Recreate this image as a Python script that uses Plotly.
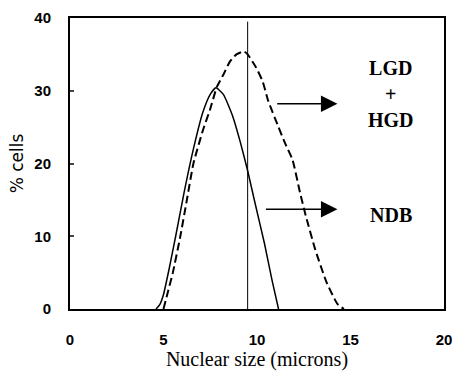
import plotly.graph_objects as go

# Solid curve (NDB)
solid_x = [4.6, 4.8, 5.0, 5.3, 5.65, 6.1, 6.6, 7.1, 7.5, 7.8, 8.2, 8.7, 9.1, 9.5, 9.9, 10.4, 10.8, 11.15]
solid_y = [0, 0.6, 2, 5.5, 10, 16, 22, 27, 29.5, 30.4, 29.5, 26.5, 23, 19, 14.5, 9, 4, 0]

# Dashed curve (LGD + HGD)
dash_x = [5.0, 5.2, 5.5, 5.9, 6.25, 6.6, 7.1, 7.5, 7.85, 8.2, 8.55, 8.9, 9.3, 9.5, 9.95, 10.3, 10.6,
          11.15, 11.5, 11.9, 12.3, 12.6, 13.1, 13.7, 14.3, 14.65]
dash_y = [0, 2, 5, 10, 15, 20, 24.5, 27.5, 30.5, 32.2, 34, 35, 35.4, 35, 33.2, 31.3, 28.6,
          25, 22.8, 20.5, 16, 12.9, 8.3, 3.8, 0.7, 0]

cutoff_x = 9.5
x_ticks = [0, 5, 10, 15, 20]
y_ticks = [0, 10, 20, 30, 40]

fig = go.Figure()
fig.add_trace(go.Scatter(x=solid_x, y=solid_y, mode="lines",
                         line=dict(color="black", width=1.5, shape="spline", smoothing=0.5),
                         showlegend=False))
fig.add_trace(go.Scatter(x=dash_x, y=dash_y, mode="lines",
                         line=dict(color="black", width=2, dash="8px,4px", shape="spline", smoothing=0.5),
                         showlegend=False))
fig.add_trace(go.Scatter(x=[cutoff_x, cutoff_x], y=[0, 39.5], mode="lines",
                         line=dict(color="black", width=1), showlegend=False))

serif = "Liberation Serif"
# Arrows
fig.add_annotation(x=14.3, y=28.2, ax=11.0, ay=28.2, xref="x", yref="y", axref="x", ayref="y",
                   showarrow=True, arrowhead=2, arrowsize=2.2, arrowwidth=1.5, arrowcolor="black", text="")
fig.add_annotation(x=14.3, y=13.7, ax=10.4, ay=13.7, xref="x", yref="y", axref="x", ayref="y",
                   showarrow=True, arrowhead=2, arrowsize=2.2, arrowwidth=1.5, arrowcolor="black", text="")
fig.add_annotation(x=17.17, y=29.6, text="<b>LGD</b><br><b>+</b><br><b>HGD</b>", showarrow=False,
                   font=dict(family=serif, size=20, color="black"), align="center")
fig.add_annotation(x=17.17, y=12.9, text="<b>NDB</b>", showarrow=False,
                   font=dict(family=serif, size=20, color="black"))

fig.update_layout(
    width=461, height=373,
    margin=dict(l=70, r=9, t=14, b=64),
    plot_bgcolor="white", paper_bgcolor="white",
    font=dict(family="Liberation Sans", size=15, color="black", weight="bold"),
)
fig.update_xaxes(range=[0, 20], tickvals=x_ticks, showgrid=False, zeroline=False,
                 showline=True, linecolor="black", linewidth=2, mirror=True,
                 ticks="outside", ticklen=0, ticklabelstandoff=16,
                 tickfont=dict(family="Liberation Sans", size=15, weight="bold"),
                 title=dict(text="Nuclear size (microns)",
                            font=dict(family=serif, size=20, weight="normal"), standoff=2))
fig.update_yaxes(range=[0, 40], tickvals=y_ticks, showgrid=False, zeroline=False,
                 showline=True, linecolor="black", linewidth=2, mirror=True,
                 ticks="inside", ticklen=4, tickwidth=1.5, ticklabelstandoff=14,
                 tickfont=dict(family="Liberation Sans", size=15, weight="bold"),
                 title=dict(text="% cells",
                            font=dict(family="DejaVu Sans", size=17, weight="normal"), standoff=6))

fig.write_html("out.html")
